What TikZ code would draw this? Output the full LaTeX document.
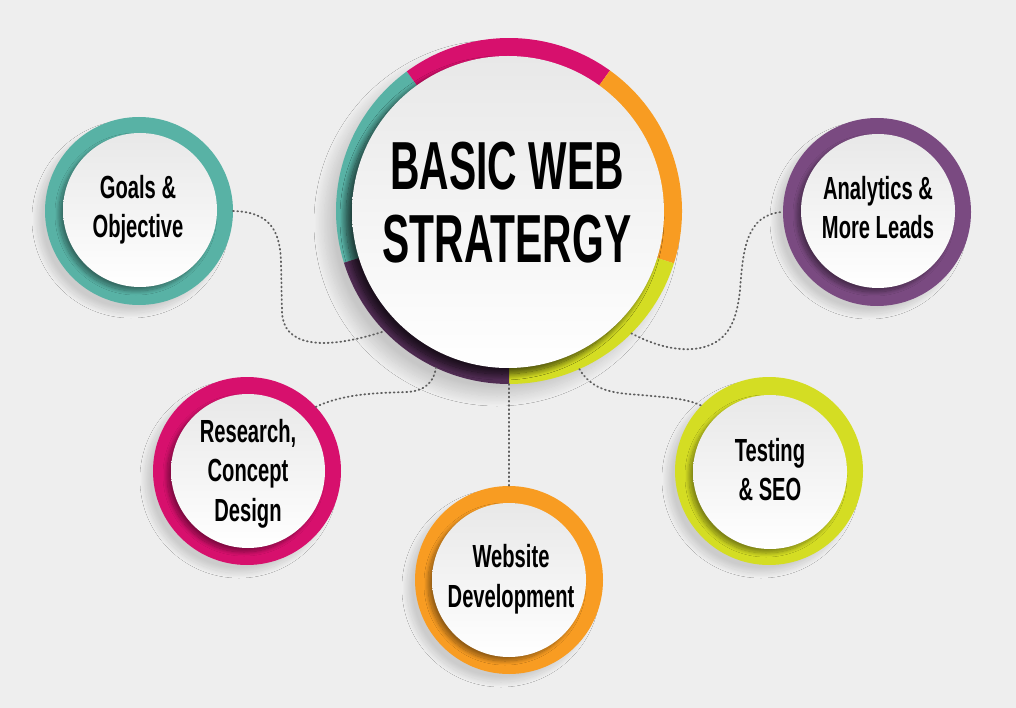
\documentclass[tikz,border=0pt]{standalone}
\usepackage{fontspec}
\newfontfamily\cond[FakeStretch=0.63]{Liberation Sans}
\newfontfamily\condt[FakeStretch=0.60]{Liberation Sans}
\usetikzlibrary{shadows.blur}
\definecolor{bg}{HTML}{EEEEEE}
\definecolor{dotc}{HTML}{5E5E5E}
\definecolor{cteal}{HTML}{58B2A5}
\definecolor{cpink}{HTML}{D7106D}
\definecolor{corange}{HTML}{F89C22}
\definecolor{cyg}{HTML}{D4DD23}
\definecolor{cpurple}{HTML}{7A4A81}
\definecolor{cdpurple}{HTML}{502C53}
\begin{document}
\begin{tikzpicture}[x=1pt,y=-1pt,
  ring/.style={circle, inner sep=0pt, outer sep=0pt, minimum size=188pt,
    blur shadow={shadow xshift=-8pt, shadow yshift=-8pt, shadow blur radius=5pt,
      shadow blur steps=20, shadow opacity=14}},
  disk/.style={circle, inner sep=0pt, outer sep=0pt, minimum size=154pt,
    top color=gray!18, bottom color=white,
    blur shadow={shadow xshift=-4pt, shadow yshift=-4pt, shadow blur radius=4pt,
      shadow blur steps=16, shadow opacity=40}},
  lbl/.style={font=\cond\bfseries\fontsize{32}{38.5}\selectfont, align=center, inner sep=0pt, text=black},
  link/.style={draw=dotc, line width=1.8pt, dash pattern=on 0.9pt off 3.3pt, line cap=round},
]
\useasboundingbox (0,0) rectangle (1016,708);
\fill[bg] (0,0) rectangle (1016,708);

% satellite rings
\node[ring, fill=cteal]   (goals)     at (139,211) {};
\node[ring, fill=cpink]   (research)  at (247,471) {};
\node[ring, fill=corange] (website)   at (509,580) {};
\node[ring, fill=cyg]     (testing)   at (769,471) {};
\node[ring, fill=cpurple] (analytics) at (877,212) {};

\node[disk] (goalsd)     at (140,210) {};
\node[disk] (researchd)  at (248,471) {};
\node[disk] (websited)   at (509,580) {};
\node[disk] (testingd)   at (770,472) {};
\node[disk] (analyticsd) at (878,211) {};

% central ring
\node[circle, inner sep=0pt, outer sep=0pt, minimum size=346pt,
  blur shadow={shadow xshift=-12pt, shadow yshift=-12pt, shadow blur radius=10pt,
    shadow blur steps=24, shadow opacity=16}] (main) at (509,211) {};
\fill[cteal]    (main.center) -- ++(162.6:173) arc[start angle=162.6, end angle=233.8, radius=173] -- cycle;
\fill[cpink]    (main.center) -- ++(233.8:173) arc[start angle=233.8, end angle=305.7, radius=173] -- cycle;
\fill[corange]  (main.center) -- ++(-54.3:173) arc[start angle=-54.3, end angle=17.6, radius=173] -- cycle;
\fill[cyg]      (main.center) -- ++(17.6:173) arc[start angle=17.6, end angle=90, radius=173] -- cycle;
\fill[cdpurple] (main.center) -- ++(90:173) arc[start angle=90, end angle=162.6, radius=173] -- cycle;
\node[disk, minimum size=312pt,
  blur shadow={shadow xshift=-6pt, shadow yshift=-6pt, shadow blur radius=6pt,
    shadow blur steps=16, shadow opacity=40}] (maind) at (508,212) {};

% connectors
\draw[link] (goals.east) .. controls (268,212) and (280,228) .. (281,262)
  -- (282,312) .. controls (283,345) and (320,352) .. (main.224);
\draw[link] (research.43) .. controls (345,393) and (380,393) .. (407,392)
  .. controls (425,391) and (434,382) .. (main.245);
\draw[link] (main.south) -- (website.north);
\draw[link] (main.-66) .. controls (595,396) and (625,393) .. (652,396)
  .. controls (675,398) and (690,400) .. (testing.136);
\draw[link] (main.-45) .. controls (655,346) and (680,352) .. (700,348)
  .. controls (730,342) and (737,318) .. (740,290)
  .. controls (743,250) and (746,214) .. (analytics.west);

% texts
\node[font=\condt\bfseries\fontsize{68}{73}\selectfont, align=center, inner sep=0pt] (title) at (507,201.5)
  {\rule{0pt}{50pt}BASIC WEB\\STRATERGY};
\node[lbl] (goalst) at (138,209.5) {\rule{0pt}{24pt}Goals \&\\Objective\rule[-7pt]{0pt}{7pt}};
\node[lbl] (analyticst) at (878,210.5) {\rule{0pt}{24pt}Analytics \&\\More Leads\rule[-7pt]{0pt}{7pt}};
\node[lbl] (testingt) at (770,472.5) {\rule{0pt}{24pt}Testing\\\& SEO\rule[-7pt]{0pt}{7pt}};
\node[lbl, font=\cond\bfseries\fontsize{32}{39.5}\selectfont] (researcht) at (248,473) {\rule{0pt}{24pt}Research,\\Concept\\Design\rule[-7pt]{0pt}{7pt}};
\node[lbl, font=\cond\bfseries\fontsize{32}{40}\selectfont] (websitet) at (511,578.5) {\rule{0pt}{24pt}Website\\Development\rule[-7pt]{0pt}{7pt}};
\end{tikzpicture}
\end{document}
